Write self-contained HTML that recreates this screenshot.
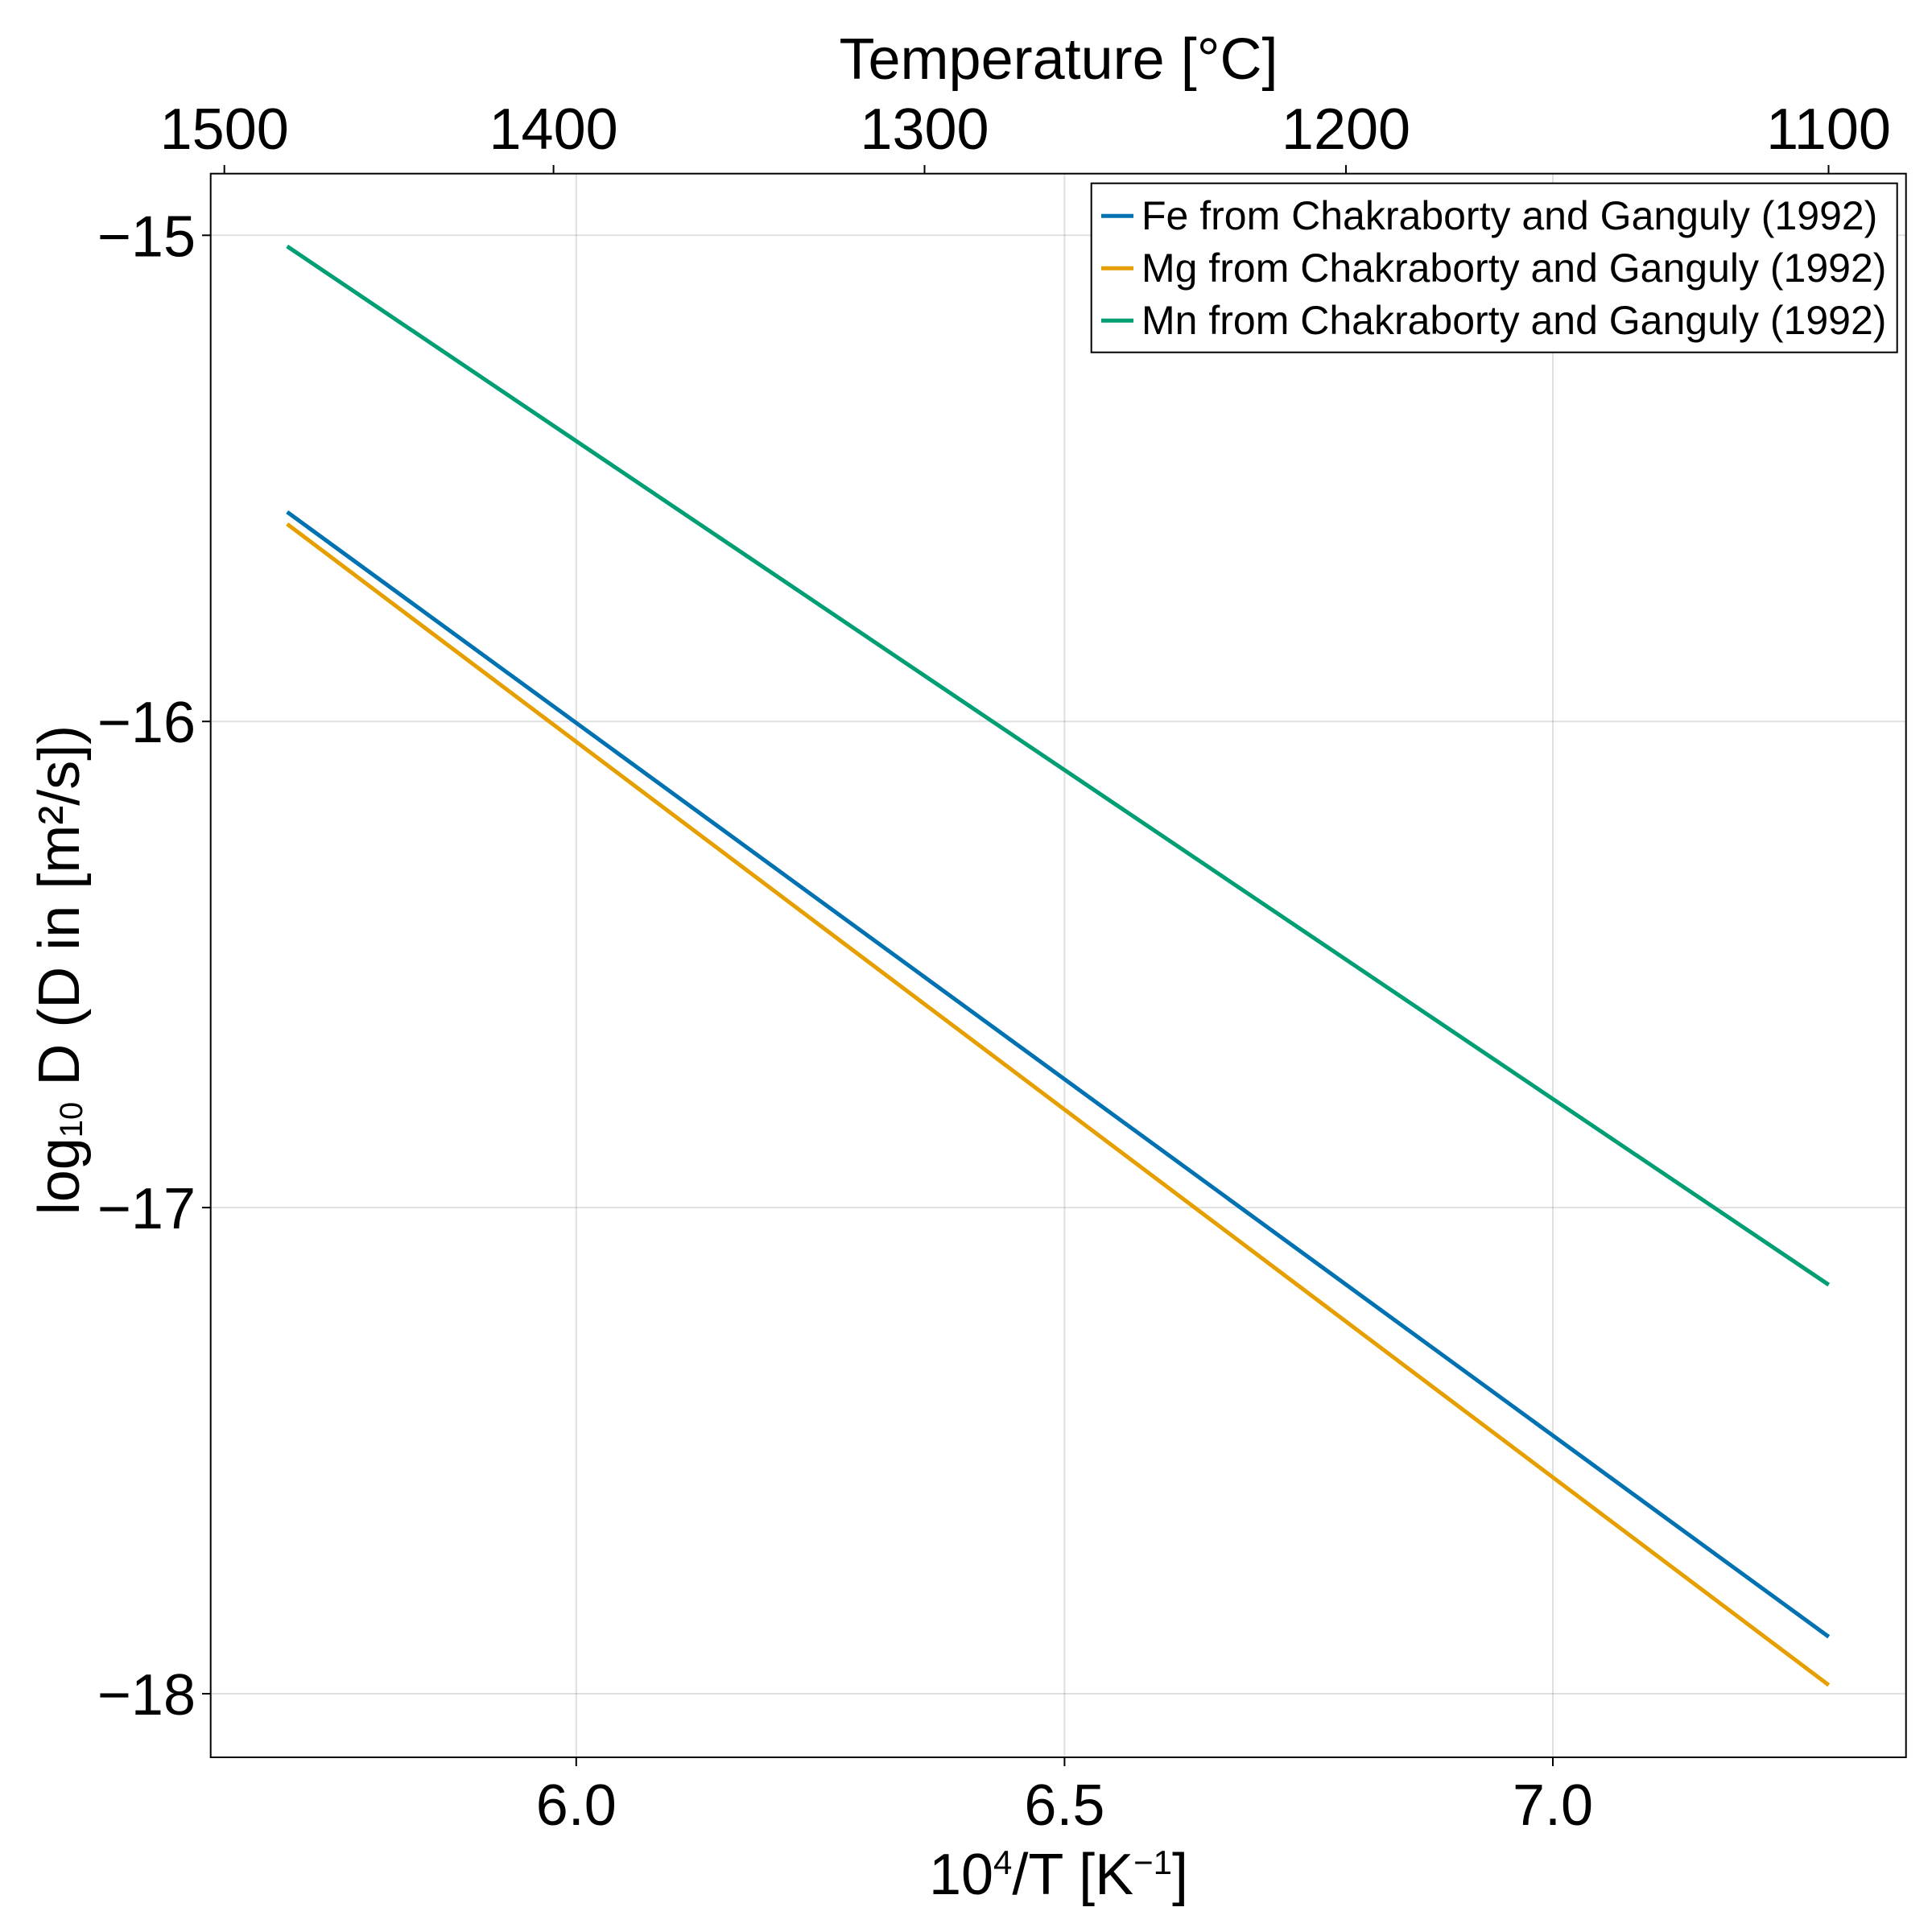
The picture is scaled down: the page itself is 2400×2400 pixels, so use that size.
<!DOCTYPE html>
<html>
<head>
<meta charset="utf-8">
<style>
  html, body { margin: 0; padding: 0; background: #ffffff; }
  svg { display: block; }
  text { font-family: "Liberation Sans", "DejaVu Sans", sans-serif; fill: #000; }
</style>
</head>
<body>
<svg width="2400" height="2400" viewBox="0 0 2400 2400" xmlns="http://www.w3.org/2000/svg">
  <rect x="0" y="0" width="2400" height="2400" fill="#ffffff"/>

  <!-- grid lines -->
  <g stroke="#000" stroke-opacity="0.12" stroke-width="2">
    <line x1="715.8" y1="216" x2="715.8" y2="2183"/>
    <line x1="1322.4" y1="216" x2="1322.4" y2="2183"/>
    <line x1="1929.0" y1="216" x2="1929.0" y2="2183"/>
    <line x1="262" y1="292.3" x2="2368" y2="292.3"/>
    <line x1="262" y1="896.2" x2="2368" y2="896.2"/>
    <line x1="262" y1="1500.1" x2="2368" y2="1500.1"/>
    <line x1="262" y1="2104.0" x2="2368" y2="2104.0"/>
  </g>

  <!-- data lines -->
  <g stroke-width="5" fill="none" stroke-linecap="butt">
    <line x1="356.7" y1="306" x2="2271.7" y2="1596" stroke="#009e73"/>
    <line x1="356.7" y1="636" x2="2271.7" y2="2033.3" stroke="#0072b2"/>
    <line x1="356.7" y1="651" x2="2271.7" y2="2093.3" stroke="#e69f00"/>
  </g>

  <!-- spines -->
  <rect x="261.7" y="215.7" width="2106" height="1967.3" fill="none" stroke="#000" stroke-width="2"/>

  <!-- ticks -->
  <g stroke="#000" stroke-width="2">
    <line x1="715.8" y1="2183" x2="715.8" y2="2194"/>
    <line x1="1322.4" y1="2183" x2="1322.4" y2="2194"/>
    <line x1="1929.0" y1="2183" x2="1929.0" y2="2194"/>
    <line x1="251" y1="292.3" x2="262" y2="292.3"/>
    <line x1="251" y1="896.2" x2="262" y2="896.2"/>
    <line x1="251" y1="1500.1" x2="262" y2="1500.1"/>
    <line x1="251" y1="2104.0" x2="262" y2="2104.0"/>
    <line x1="278.7" y1="205" x2="278.7" y2="216"/>
    <line x1="687.6" y1="205" x2="687.6" y2="216"/>
    <line x1="1148.5" y1="205" x2="1148.5" y2="216"/>
    <line x1="1672.0" y1="205" x2="1672.0" y2="216"/>
    <line x1="2271.5" y1="205" x2="2271.5" y2="216"/>
  </g>

  <!-- bottom tick labels -->
  <g font-size="72" text-anchor="middle">
    <text x="715.8" y="2267">6.0</text>
    <text x="1322.4" y="2267">6.5</text>
    <text x="1929.0" y="2267">7.0</text>
  </g>

  <!-- top tick labels -->
  <g font-size="72" text-anchor="middle">
    <text x="278.7" y="185">1500</text>
    <text x="687.6" y="185">1400</text>
    <text x="1148.5" y="185">1300</text>
    <text x="1672.0" y="185">1200</text>
    <text x="2271.5" y="185">1100</text>
  </g>

  <!-- left tick labels -->
  <g font-size="72" text-anchor="end">
    <text x="243" y="318.3">−15</text>
    <text x="243" y="922.2">−16</text>
    <text x="243" y="1526.1">−17</text>
    <text x="243" y="2130.0">−18</text>
  </g>

  <!-- axis labels -->
  <text x="1315" y="98" font-size="72" text-anchor="middle">Temperature [°C]</text>

  <text x="1315" y="2353" font-size="72" text-anchor="middle">10<tspan font-size="42" dy="-25">4</tspan><tspan dy="25">/T [K</tspan><tspan font-size="42" dy="-25">−1</tspan><tspan dy="25">]</tspan></text>

  <text transform="translate(98,1205) rotate(-90)" font-size="72" text-anchor="middle">log<tspan font-size="40" dy="4">10</tspan><tspan dy="-4"> D (D in [m²/s])</tspan></text>

  <!-- legend -->
  <rect x="1355.7" y="227.7" width="1001" height="210" fill="#ffffff" stroke="#000" stroke-width="2"/>
  <g stroke-width="5">
    <line x1="1368" y1="268.3" x2="1408" y2="268.3" stroke="#0072b2"/>
    <line x1="1368" y1="333.3" x2="1408" y2="333.3" stroke="#e69f00"/>
    <line x1="1368" y1="398.3" x2="1408" y2="398.3" stroke="#009e73"/>
  </g>
  <g font-size="50">
    <text x="1418" y="285">Fe from Chakraborty and Ganguly (1992)</text>
    <text x="1418" y="350">Mg from Chakraborty and Ganguly (1992)</text>
    <text x="1418" y="415">Mn from Chakraborty and Ganguly (1992)</text>
  </g>
</svg>
</body>
</html>
